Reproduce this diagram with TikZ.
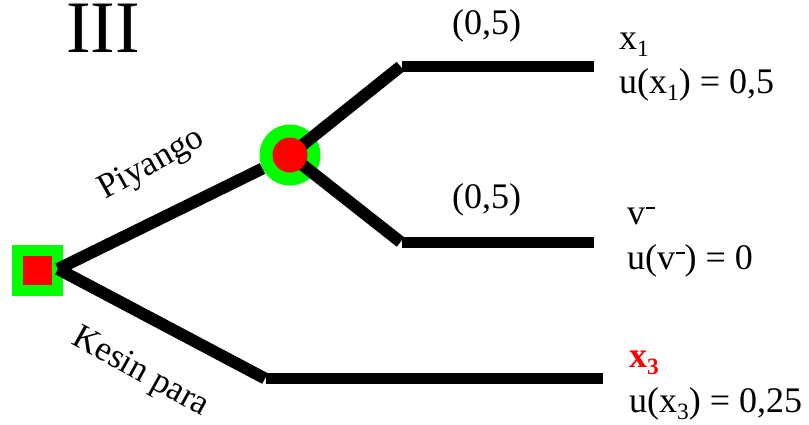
\documentclass[tikz,border=0pt]{standalone}
\usepackage{fontspec}
\usepackage{graphicx}
\setmainfont{Liberation Serif}
\definecolor{nodegreen}{RGB}{0,255,0}
\definecolor{nodered}{RGB}{255,0,0}
% lowered index and raised minus, set in a smaller size
\newcommand{\lowix}[1]{\raisebox{-0.22em}{\scalebox{0.65}{#1}}}
\newcommand{\himinus}{\kern0.02em\raisebox{0.42em}{\rule{0.24em}{0.055em}}}
\tikzset{
  branch/.style={line width=12pt, line cap=butt},
  level/.style={line width=11pt, line cap=butt},
  lbl/.style={inner sep=0pt, anchor=base west, font=\fontsize{36}{40}\selectfont},
  edgelbl/.style={inner sep=0pt, font=\fontsize{35}{38}\selectfont},
  halo/.style={fill=nodegreen, inner sep=0pt},
  core/.style={fill=nodered, inner sep=0pt}
}
\begin{document}
\begin{tikzpicture}[x=1pt, y=-1pt]
\useasboundingbox (0,0) rectangle (809,424);
\fill[white] (0,0) rectangle (809,424);

% title
\node[inner sep=0pt, anchor=base west, text height=49pt, text depth=0pt,
      font=\fontsize{74}{80}\selectfont] (title) at (66,52) {III};

% decision node (outer part) and chance node (outer part)
\node[halo, minimum size=51pt] (decHalo) at (37.5,270.5) {};
\node[halo, circle, minimum size=61pt] (chanceHalo) at (290,155) {};

% branch points
\coordinate (root) at (58,269);
\coordinate (upEnd) at (400.5,66.5);
\coordinate (upStart) at (402,66.5);
\coordinate (upTip) at (594,66.5);
\coordinate (midEnd) at (400.5,242);
\coordinate (midStart) at (402,242);
\coordinate (midTip) at (594,242);
\coordinate (lowEnd) at (265,378.5);
\coordinate (lowStart) at (266,378.5);
\coordinate (lowTip) at (603,378.5);

% branches
\draw[branch] (root) -- (chanceHalo);
\draw[branch] (root) -- (lowEnd);
\draw[level] (lowStart) -- (lowTip);
\draw[branch] (chanceHalo.center) -- (upEnd);
\draw[level] (upStart) -- (upTip);
\draw[branch] (chanceHalo.center) -- (midEnd);
\draw[level] (midStart) -- (midTip);

% node cores
\node[core, minimum size=29pt] (dec) at (37.5,270) {};
\node[core, circle, minimum size=35pt] (chance) at (290,155) {};

% branch labels
\node[edgelbl, rotate=29] (lotLbl) at (152,165) {Piyango};
\node[edgelbl, rotate=-29] (sureLbl) at (140,373) {Kesin para};
\node[lbl] (pTop) at (452,34) {(0,5)};
\node[lbl] (pMid) at (452,208) {(0,5)};

% outcomes
\node[lbl] (o1) at (619,49) {x\lowix{1}};
\node[lbl] (u1) at (619,93) {u(x\lowix{1}) = 0,5};
\node[lbl] (o2) at (627,224) {v\himinus};
\node[lbl] (u2) at (627,269) {u(v\himinus) = 0};
\node[lbl, text=nodered] (o3) at (629,367) {\textbf{x\lowix{3}}};
\node[lbl] (u3) at (629,412) {u(x\lowix{3}) = 0,25};
\end{tikzpicture}
\end{document}
